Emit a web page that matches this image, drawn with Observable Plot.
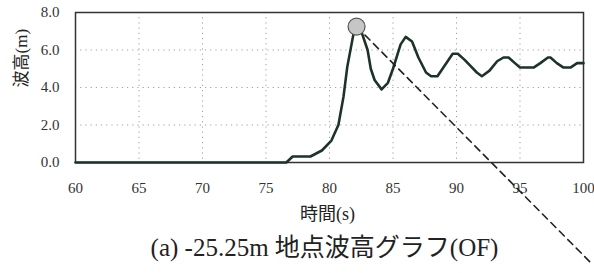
<!DOCTYPE html>
<html>
<head>
<meta charset="utf-8">
<script src="https://cdn.jsdelivr.net/npm/d3@7"></script>
<script src="https://cdn.jsdelivr.net/npm/@observablehq/plot@0.6"></script>
<style>
  html, body { margin: 0; padding: 0; background: #fff; }
  #chart svg { display: block; }
</style>
</head>
<body>
<div id="chart"></div>
<script>
// Time (s)
const time = [60, 76.6, 77.1, 78.5, 79.4, 80.15, 80.7, 81.1, 81.4, 81.9, 82.15, 82.55, 83.0, 83.25, 83.55, 84.1, 84.6, 85.0, 85.6, 86.0, 86.5, 87.0, 87.6, 88.0, 88.5, 89.1, 89.7, 90.1, 90.6, 91.1, 91.6, 92.0, 92.6, 93.2, 93.7, 94.1, 94.6, 95.0, 96.1, 96.6, 97.2, 97.4, 97.9, 98.4, 99.0, 99.5, 100];
// Wave height (m)
const height = [0, 0, 0.32, 0.32, 0.64, 1.17, 2.0, 3.5, 5.1, 6.9, 7.3, 6.9, 6.0, 5.0, 4.4, 3.9, 4.25, 5.0, 6.3, 6.7, 6.45, 5.6, 4.8, 4.6, 4.6, 5.2, 5.8, 5.8, 5.5, 5.15, 4.8, 4.6, 4.9, 5.4, 5.6, 5.6, 5.3, 5.07, 5.07, 5.3, 5.6, 5.6, 5.3, 5.07, 5.07, 5.3, 5.3];
// Marked peak and annotation arrow
const peakT = [82.13];
const peakH = [7.25];
const arrowT = [82.13, 100.55];
const arrowH = [7.25, -5.33];

const xTicks = [60, 65, 70, 75, 80, 85, 90, 95, 100];
const yTicks = [0, 2, 4, 6, 8];
const xGrid = [65, 70, 75, 80, 85, 90, 95];
const yGrid = [2, 4, 6];

const yLabel = "波高(m)";
const xLabel = "時間(s)";
const title = "(a) -25.25m 地点波高グラフ(OF)";

const series = time.map((t, i) => ({t, h: height[i]}));
const peak = peakT.map((t, i) => ({t, h: peakH[i]}));
const arrow = arrowT.map((t, i) => ({t, h: arrowH[i]}));

const FONT = "'Liberation Serif', 'Noto Sans CJK JP', serif";

const chart = Plot.plot({
  width: 594,
  height: 273,
  marginLeft: 75,
  marginRight: 11,
  marginTop: 12,
  marginBottom: 111,
  style: {fontFamily: FONT, color: "#2a2a2a", background: "#fff"},
  x: {domain: [60, 100]},
  y: {domain: [0, 8]},
  marks: [
    Plot.gridX(xGrid, {stroke: "#888", strokeOpacity: 0.8, strokeDasharray: "1.2,4"}),
    Plot.gridY(yGrid, {stroke: "#888", strokeOpacity: 0.8, strokeDasharray: "1.2,4"}),
    Plot.axisX(xTicks, {tickSize: 0, tickPadding: 20, fontSize: 15, fontFamily: FONT, label: null, fill: "#333"}),
    Plot.axisY(yTicks, {tickSize: 0, tickPadding: 16, fontSize: 15, fontFamily: FONT, label: null, fill: "#333", tickFormat: d3.format(".1f")}),
    Plot.frame({stroke: "#333", strokeWidth: 1.5}),
    Plot.line(series, {x: "t", y: "h", stroke: "#1e3328", strokeWidth: 2.6, strokeLinejoin: "round"}),
    Plot.line(arrow, {x: "t", y: "h", stroke: "#222", strokeWidth: 1.6, strokeDasharray: "7,5"}),
    Plot.dot(peak, {x: "t", y: "h", r: 8.5, fill: "#c6c6c6", stroke: "#555", strokeWidth: 1.2}),
    Plot.text([yLabel], {frameAnchor: "left", dx: -54, rotate: -90, fontSize: 17, fontFamily: FONT, fill: "#222", style: "letter-spacing:2px"}),
    Plot.text([xLabel], {frameAnchor: "bottom", dy: 57, dx: -2, fontSize: 18, fontFamily: FONT, fill: "#222"}),
    Plot.text([title], {frameAnchor: "bottom", dy: 93, dx: -5, fontSize: 25, fontFamily: FONT, fill: "#222"})
  ]
});
document.getElementById("chart").appendChild(chart);
</script>
</body>
</html>
